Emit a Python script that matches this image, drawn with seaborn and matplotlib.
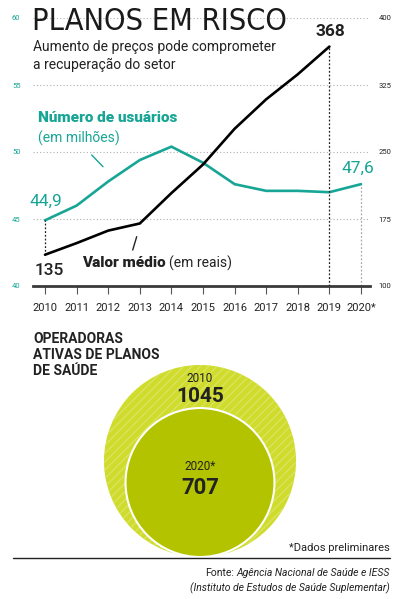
import matplotlib
matplotlib.use("Agg")
import matplotlib.pyplot as plt
from matplotlib.patches import Circle
from matplotlib.lines import Line2D
import numpy as np
import pandas as pd
import seaborn as sns

# data
years = [2010, 2011, 2012, 2013, 2014, 2015, 2016, 2017, 2018, 2019, 2020]
year_labels = ['2010', '2011', '2012', '2013', '2014', '2015', '2016', '2017', '2018', '2019', '2020*']
usuarios = [44.9, 46.0, 47.8, 49.4, 50.4, 49.2, 47.6, 47.1, 47.1, 47.0, 47.6]   # milhoes
valor_years = [2010, 2011, 2012, 2013, 2014, 2015, 2016, 2017, 2018, 2019]
valor = [135, 148, 162, 170, 204, 236, 276, 309, 337, 368]   # reais
left_ticks = [40, 45, 50, 55, 60]
right_ticks = [100, 175, 250, 325, 400]
op_labels = ['2010', '2020*']
operadoras = [1045, 707]

TEAL = '#17a595'
DARK = '#222222'

sns.set_theme(style="white")
plt.rcParams['font.family'] = ['Roboto', 'DejaVu Sans']

W, H = 400, 599
fig = plt.figure(figsize=(W / 100, H / 100), dpi=100)

def fx(x):
    return x / W

def fy(y):
    return 1 - y / H

# main chart area in pixels: x 33..370, y 18..286
ax = fig.add_axes([fx(33), fy(286), (370 - 33) / W, (286 - 18) / H])
ax2 = ax.twinx()

df_u = pd.DataFrame({'ano': years, 'usuarios': usuarios})
df_v = pd.DataFrame({'ano': valor_years, 'valor': valor})

for y in left_ticks[1:]:
    ax.axhline(y, color='#b0b0b0', lw=0.8, ls=(0, (1, 2)), zorder=0)

sns.lineplot(data=df_u, x='ano', y='usuarios', ax=ax, color=TEAL, lw=1.9,
             solid_joinstyle='miter', zorder=3)
sns.lineplot(data=df_v, x='ano', y='valor', ax=ax2, color='black', lw=1.9,
             solid_joinstyle='miter', zorder=3)

ax.set_xlim(2009.62, 2020.285)
ax.set_ylim(40, 60)
ax2.set_ylim(100, 400)
ax.set_xlabel('')
ax.set_ylabel('')
ax2.set_ylabel('')

ax.set_xticks(years)
ax.set_xticklabels(year_labels, fontsize=8, color=DARK, fontstretch='condensed')
ax.tick_params(axis='x', bottom=True, length=6, width=0.8, color='#555555', pad=6)
ax.set_yticks(left_ticks)
ax.set_yticklabels([str(t) for t in left_ticks], fontsize=5.5, color=TEAL)
ax.tick_params(axis='y', left=False, length=0, pad=9)
ax2.set_yticks(right_ticks)
ax2.set_yticklabels([str(t) for t in right_ticks], fontsize=5.5, color=DARK)
ax2.tick_params(axis='y', right=False, length=0, pad=6)

for a in (ax, ax2):
    for s in ('top', 'left', 'right'):
        a.spines[s].set_visible(False)
    a.patch.set_visible(False)
ax.spines['bottom'].set_color('#3a3a3a')
ax.spines['bottom'].set_linewidth(2)
ax2.spines['bottom'].set_visible(False)

# vertical guide lines
ax2.plot([valor_years[0]] * 2, [valor[0], 100 + (usuarios[0] - 40) * 15],
         color=DARK, lw=0.9, ls=(0, (1.5, 1.5)), zorder=2)
ax2.plot([valor_years[-1]] * 2, [100, valor[-1]], color=DARK, lw=0.9,
         ls=(0, (1.5, 1.5)), zorder=2)
ax.plot([years[-1]] * 2, [40, usuarios[-1]], color='#aaaaaa', lw=0.9,
        ls=(0, (1.5, 1.5)), zorder=2)

# value labels
ax.annotate('44,9', (years[0], usuarios[0]), xytext=(0.5, 13.5), textcoords='offset points',
            ha='center', va='center', fontsize=12.5, color=TEAL)
ax.annotate('47,6', (years[-1], usuarios[-1]), xytext=(-2.5, 11.5), textcoords='offset points',
            ha='center', va='center', fontsize=12.5, color=TEAL)
ax2.annotate('368', (valor_years[-1], valor[-1]), xytext=(1, 11), textcoords='offset points',
             ha='center', va='center', fontsize=12.5, color=DARK, weight='bold')
ax2.annotate('135', (valor_years[0], valor[0]), xytext=(3, -11.5), textcoords='offset points',
             ha='center', va='center', fontsize=12.5, color=DARK, weight='medium')

# series labels
fig.text(fx(38), fy(118), 'Número de usuários', fontsize=11, weight=900,
         color=TEAL, va='center')
fig.text(fx(38), fy(138), '(em milhões)', fontsize=10, color=TEAL, va='center')
t_valor = fig.text(fx(82), fy(263), 'Valor médio', fontsize=11, weight=900,
                   color=DARK, va='center')
t_reais = fig.text(fx(171), fy(263), '(em reais)', fontsize=10, color=DARK, va='center')

fig.add_artist(Line2D([fx(91.7), fx(103)], [fy(155), fy(166.7)], color=TEAL, lw=1))
fig.add_artist(Line2D([fx(136.7), fx(132.7)], [fy(236.7), fy(250)], color=DARK, lw=1))

# title
fig.text(fx(32), fy(21), 'PLANOS EM RISCO', fontsize=22, family='DejaVu Sans',
         fontstretch='condensed', color='#1a1a1a', va='center')
fig.text(fx(33), fy(47), 'Aumento de preços pode comprometer', fontsize=10,
         color=DARK, va='center')
fig.text(fx(33), fy(65), 'a recuperação do setor', fontsize=10,
         color=DARK, va='center')

# operadoras
fig.text(fx(33), fy(355), 'OPERADORAS\nATIVAS DE PLANOS\nDE SAÚDE', fontsize=10,
         weight='bold', color=DARK, va='center', linespacing=1.2)

cax = fig.add_axes([0, 0, 1, 1], zorder=-1)
cax.set_xlim(0, W)
cax.set_ylim(H, 0)
cax.axis('off')

plt.rcParams['hatch.linewidth'] = 1.0
r_outer = 96
radii = [r_outer * (v / max(operadoras)) ** 0.65 for v in operadoras]
base_y = 557
outer = Circle((200, base_y - radii[0]), radii[0], facecolor='#cfdc2b',
               edgecolor='#dae360', hatch='////', lw=0)
cax.add_patch(outer)
inner = Circle((200, base_y - radii[1]), radii[1], facecolor='#b3c300',
               edgecolor='white', lw=1.5)
cax.add_patch(inner)

fig.text(fx(200), fy(378), op_labels[0], fontsize=8.5, ha='center', va='center', color=DARK)
fig.text(fx(200), fy(397), str(operadoras[0]), fontsize=15, weight='bold',
         ha='center', va='center', color=DARK)
fig.text(fx(200), fy(467), op_labels[1], fontsize=8.5, ha='center', va='center', color=DARK)
fig.text(fx(200), fy(488), str(operadoras[1]), fontsize=16, weight='bold',
         ha='center', va='center', color=DARK)

fig.text(fx(390), fy(548), '*Dados preliminares', fontsize=8, ha='right',
         va='center', color=DARK)
fig.add_artist(Line2D([fx(13), fx(390)], [fy(558), fy(558)], color=DARK, lw=1))
t_src = fig.text(fx(390), fy(573), 'Agência Nacional de Saúde e IESS', fontsize=7.5,
                 style='italic', ha='right', va='center', color=DARK)
fig.text(fx(390), fy(588), '(Instituto de Estudos de Saúde Suplementar)', fontsize=7.5,
         style='italic', ha='right', va='center', color=DARK)

# place trailing/leading pieces next to measured texts
renderer = fig.canvas.get_renderer()
bb = t_src.get_window_extent(renderer)
fig.text(bb.x0 / W - 0.007, fy(573), 'Fonte:', fontsize=7.5, ha='right',
         va='center', color=DARK)
bb = t_valor.get_window_extent(renderer)
t_reais.set_x(bb.x1 / W + 0.008)

fig.savefig('out.png', dpi=100)
